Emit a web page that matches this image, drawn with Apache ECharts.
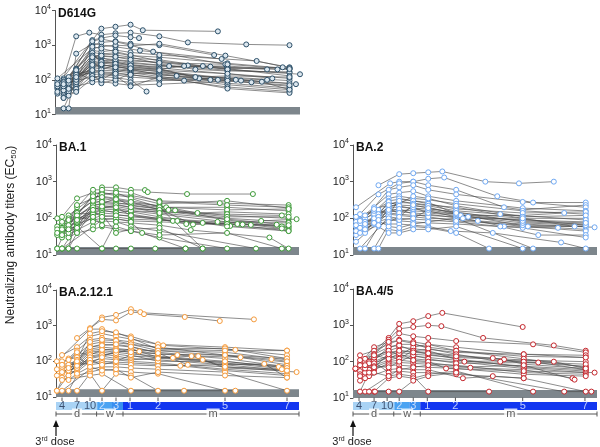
<!DOCTYPE html>
<html><head><meta charset="utf-8">
<script src="https://cdn.jsdelivr.net/npm/echarts@6/dist/echarts.min.js"></script>
<style>html,body{margin:0;padding:0;background:#fff}#c{width:600px;height:447px}</style>
</head><body><div id="c"></div>
<script>
// ---- data: each subject = list of [day after 3rd dose, EC50 titer]; 15 = below LOD ----
const d614g = [
 [[2.8,70],[14,3000],[21,3400],[31,3900],[44,2700],[140,2500]],
 [[4.5,110],[7,1800],[10,2300],[14,2000],[21,2200],[31,2300],[62,1800],[100,1200],[170,1050],[212,1000]],
 [[4.5,60],[11,1400],[14,1600],[21,1900],[31,1700],[40,1600]],
 [[4.5,15],[11,1000],[14,1200],[21,1300],[31,1100],[62,1000],[135,520]],
 [[5.5,15],[7,570],[11,1100],[21,900],[41,700],[145,400]],
 [[2.8,55],[7,210],[11,620],[14,560],[21,600],[31,500],[62,450],[152,300],[212,210]],
 [[2.8,80],[7,150],[11,520],[14,480],[21,450],[31,420],[62,380],[120,250],[152,230],[212,200]],
 [[4.5,40],[7,120],[11,460],[14,420],[21,380],[31,350],[62,320],[100,260],[152,210],[205,230]],
 [[4.5,70],[7,100],[11,420],[14,560],[21,520],[31,450],[62,290],[110,200],[152,180],[212,170]],
 [[5.5,50],[7,90],[11,380],[14,430],[21,340],[31,300],[62,260],[152,190],[212,160]],
 [[2.8,60],[7,80],[11,330],[14,360],[21,310],[31,280],[62,220],[152,150],[212,110]],
 [[4.5,35],[7,70],[11,280],[14,310],[21,270],[31,240],[62,200],[115,110],[152,120],[212,95]],
 [[5.5,45],[7,60],[11,250],[14,270],[21,240],[31,210],[62,170],[152,105],[212,80]],
 [[4.5,30],[7,50],[11,230],[14,240],[21,210],[31,190],[62,150],[152,95],[212,65]],
 [[2.8,90],[7,140],[11,200],[14,220],[21,195],[31,175],[62,140],[85,130],[152,80],[212,58]],
 [[4.5,55],[7,110],[11,180],[14,190],[21,180],[31,160],[62,125],[152,72],[212,52]],
 [[5.5,70],[7,130],[11,160],[14,170],[21,160],[31,140],[62,115],[152,62],[212,46]],
 [[4.5,100],[7,180],[11,140],[14,150],[21,140],[31,120],[62,105],[95,95],[152,56],[212,42]],
 [[2.8,65],[7,95],[11,120],[14,125],[21,115],[31,100],[48,46]],
 [[5.5,80],[7,160],[11,100],[14,105],[21,95],[31,85],[62,95],[130,100]],
 [[4.5,45],[7,65],[11,85],[14,90],[21,78],[31,70],[62,75],[165,95]],
 [[2.8,110],[11,800],[14,900],[21,1000],[31,950],[62,1100],[150,500],[212,230]],
 [[5.5,120],[11,1300],[14,1500],[21,1250],[31,1000],[55,650],[150,280]],
 [[4.5,90],[11,700],[14,650],[21,720],[31,620],[62,520],[180,350],[212,220]],
 [[2.8,40],[7,200],[11,600],[14,300],[21,330],[31,260],[62,240],[130,240],[190,200]],
 [[5.5,60],[7,170],[11,500],[14,350],[21,380],[31,320],[75,250],[152,250],[200,200]],
 [[4.5,50],[7,110],[11,350],[14,200],[21,260],[31,230],[62,200],[95,250],[152,210],[212,130]],
 [[5.5,35],[7,75],[11,150],[14,80],[21,100],[31,150],[62,160],[152,110],[190,100]],
 [[2.8,75],[7,55],[11,130],[14,100],[21,170],[31,200],[62,140],[140,100],[175,85]],
 [[4.5,30],[7,45],[11,110],[14,140],[21,130],[31,65],[62,120],[160,100],[220,75]],
 [[5.5,55],[7,190],[11,900],[14,800],[21,650],[31,520],[62,350],[152,200],[225,145]],
 [[4.5,85],[7,130],[11,450],[14,500],[21,460],[31,380],[62,310],[152,280],[212,205]],
 [[2.8,45],[7,85],[11,240],[14,260],[21,250],[31,200],[62,180],[185,88],[212,52]],
 [[5.5,95],[7,140],[11,190],[14,160],[21,150],[31,140],[62,110],[152,95],[212,70]],
 [[4.5,65],[7,100],[11,300],[14,330],[21,290],[31,260],[62,210],[110,120],[152,130],[212,120]],
 [[4.5,75],[7,120],[11,270],[14,280],[21,230],[31,215],[62,190],[152,150],[195,110]]
];
const ba1 = [
 [[2.4,15],[4,15],[7,15],[14,15],[21,15],[31,15],[57,15],[97,15]],
 [[4,15],[11,250],[14,700],[21,700],[31,600],[46,590],[49,520],[99,460],[177,460]],
 [[5.3,15],[7,120],[11,450],[14,500],[21,450],[31,420],[62,300],[143,260],[212,230]],
 [[2.4,100],[4,110],[7,350],[11,500],[14,480],[21,420],[31,380],[62,250],[152,300],[212,190]],
 [[4,60],[5.3,120],[11,380],[14,400],[21,350],[31,300],[71,200],[152,200],[212,160]],
 [[5.3,60],[7,150],[11,300],[14,350],[21,300],[31,270],[62,220],[113,140],[152,150],[212,130]],
 [[4,33],[7,100],[11,250],[14,300],[21,270],[31,230],[74,170],[152,120],[212,100]],
 [[2.4,35],[7,80],[11,220],[14,250],[21,240],[31,200],[62,160],[152,100],[212,80]],
 [[5.3,55],[7,60],[11,200],[14,220],[21,210],[31,180],[83,165],[152,90],[205,60]],
 [[4,45],[7,50],[11,180],[14,200],[21,190],[31,160],[62,130],[152,80],[212,55]],
 [[5.3,30],[7,40],[11,160],[14,180],[21,170],[31,150],[62,110],[155,62],[212,50]],
 [[4,70],[7,130],[11,140],[14,160],[21,150],[31,130],[80,85],[152,70],[212,45]],
 [[2.4,60],[7,90],[11,120],[14,140],[21,130],[31,110],[62,95],[98,70],[162,70],[212,60]],
 [[5.3,40],[7,70],[11,100],[14,120],[21,110],[31,95],[86,85],[167,68],[200,67]],
 [[4,55],[7,110],[11,90],[14,100],[21,95],[31,85],[62,80],[175,66],[205,53]],
 [[4,30],[7,48],[11,80],[14,85],[21,80],[31,75],[62,65],[104,48],[193,30],[212,15]],
 [[5.3,100],[7,200],[11,600],[14,600],[21,550],[31,500],[62,280],[152,230],[212,200]],
 [[2.4,15],[7,230],[11,350],[14,450],[21,500],[31,350],[62,200],[120,15]],
 [[4,15],[11,60],[14,90],[21,100],[31,80],[43,40],[97,15]],
 [[5.3,15],[7,40],[11,50],[14,60],[21,50],[31,45],[62,30],[152,15]],
 [[4,45],[7,60],[14,15],[21,80],[31,60],[62,45],[180,15]],
 [[5.3,75],[7,100],[11,140],[14,130],[21,40],[31,50],[62,55],[120,15]],
 [[2.4,50],[11,230],[14,250],[21,350],[31,220],[62,180],[107,68],[185,85],[222,95]],
 [[4,80],[7,140],[11,300],[14,280],[21,250],[31,250],[62,200],[152,170],[212,180]],
 [[5.3,90],[7,120],[11,200],[14,170],[21,140],[31,160],[62,150],[152,130],[205,120]],
 [[4,50],[7,80],[11,150],[14,110],[21,120],[31,120],[62,100],[140,80],[212,75]],
 [[5.3,65],[11,400],[14,380],[21,330],[31,280],[62,170],[152,110],[212,110]],
 [[2.4,40],[7,60],[11,130],[14,190],[21,230],[31,200],[62,140],[152,95],[212,65]],
 [[4,35],[7,55],[11,110],[14,65],[21,60],[31,45],[62,35],[152,40],[205,15]],
 [[5.3,50],[7,90],[11,170],[14,210],[21,200],[31,120],[62,90],[120,75],[152,60],[212,45]]
];
const ba2 = [
 [[8,800],[14,1600],[21,1700],[31,1800],[46,1900],[100,1000],[145,900],[180,1000]],
 [[3,200],[11,900],[14,1000],[21,1000],[31,1200],[48,1300],[116,400],[160,270],[211,270]],
 [[4.2,130],[8,450],[14,900],[21,1000],[31,800],[61,600],[125,200],[150,170],[211,230]],
 [[5.2,100],[10.5,600],[14,700],[21,800],[31,600],[61,450],[150,280],[211,200]],
 [[3,80],[7,200],[10.5,450],[14,500],[21,550],[31,400],[61,300],[150,190],[211,160]],
 [[4.2,70],[7,150],[10.5,350],[14,400],[21,350],[31,320],[61,250],[150,160],[211,130]],
 [[5.2,60],[8,120],[10.5,300],[14,330],[21,300],[31,270],[67,120],[150,120],[190,140]],
 [[3,60],[7,110],[10.5,250],[14,270],[21,260],[31,230],[61,200],[150,100],[211,100]],
 [[4.2,50],[8,100],[10.5,220],[14,230],[21,220],[31,200],[77,110],[150,90],[211,80]],
 [[5.2,40],[7,90],[10.5,200],[14,200],[21,190],[31,180],[61,150],[150,80],[211,70]],
 [[3,35],[8,80],[10.5,180],[14,170],[21,160],[31,150],[61,130],[155,60],[211,60]],
 [[4.2,90],[7,130],[10.5,160],[14,150],[21,140],[31,130],[90,85],[150,70],[222,57]],
 [[3,23],[10.5,140],[14,130],[21,120],[31,120],[61,110],[125,60],[184,55],[211,50]],
 [[5.2,120],[8,170],[10.5,130],[14,120],[21,110],[31,100],[61,95],[150,60],[211,45]],
 [[4.2,15],[10.5,110],[14,100],[21,95],[31,90],[61,80],[120,60],[165,35],[211,35]],
 [[5.2,15],[8,60],[10.5,90],[14,85],[21,80],[31,75],[61,70],[150,55],[211,30]],
 [[7,15],[10.5,70],[14,70],[21,65],[31,60],[55,45],[110,40],[187,22],[211,15]],
 [[8,15],[10.5,50],[14,45],[21,60],[31,55],[61,40],[105,15]],
 [[4.2,45],[7,70],[10.5,40],[14,40],[21,50],[31,50],[61,60],[150,15]],
 [[3,65],[7,100],[10.5,60],[14,55],[21,70],[31,80],[61,100],[160,15]],
 [[5.2,80],[10.5,120],[14,350],[21,300],[31,250],[61,180],[150,140],[211,150]],
 [[4.2,55],[8,130],[10.5,200],[14,250],[21,400],[31,350],[61,220],[150,110],[211,120]],
 [[3,110],[7,160],[10.5,280],[14,220],[21,180],[31,160],[70,100],[150,95],[211,65]],
 [[5.2,70],[8,110],[10.5,150],[14,180],[21,130],[31,110],[61,85],[150,65],[211,60]],
 [[4.2,85],[7,180],[10.5,230],[14,300],[21,250],[31,220],[61,160],[120,130],[211,90]],
 [[3,45],[8,90],[10.5,170],[14,140],[21,200],[31,140],[61,120],[150,75],[211,65]],
 [[5.2,50],[7,75],[10.5,100],[14,90],[21,100],[31,170],[61,130],[150,85],[211,75]],
 [[4.2,40],[8,65],[10.5,80],[14,110],[21,230],[31,190],[61,140],[150,100],[200,60]]
];
const ba2121 = [
 [[10,850],[14,1700],[21,2000],[31,2900],[41,2400],[45,2100],[96,1750],[143,1350]],
 [[7,450],[14,1500],[21,1400],[31,2400],[178,1500]],
 [[2.3,100],[10,800],[14,800],[21,600],[31,500],[60,300],[150,250],[210,200]],
 [[4,150],[7,250],[10,500],[14,600],[21,500],[31,420],[67,280],[160,210],[210,150]],
 [[5.3,120],[7,200],[10,400],[14,450],[21,400],[31,350],[60,230],[150,230],[210,120]],
 [[4,90],[7,150],[10,300],[14,350],[21,330],[31,300],[60,200],[150,180],[210,110]],
 [[5.3,70],[7,120],[10,250],[14,300],[21,280],[31,250],[60,180],[114,140],[165,130],[210,95]],
 [[4,60],[7,100],[10,220],[14,250],[21,230],[31,210],[60,160],[150,150],[210,80]],
 [[2.3,15],[7,90],[10,200],[14,220],[21,200],[31,180],[86,150],[150,120],[210,70]],
 [[5.3,50],[7,80],[10,180],[14,200],[21,180],[31,160],[60,140],[150,100],[202,70]],
 [[4,45],[7,70],[10,160],[14,180],[21,160],[31,140],[80,125],[150,90],[210,60]],
 [[5.3,40],[7,60],[10,140],[14,160],[21,140],[31,120],[60,110],[150,80],[210,55]],
 [[4,35],[7,55],[10,120],[14,140],[21,120],[31,110],[105,140],[150,70],[222,50]],
 [[2.3,60],[7,50],[10,100],[14,120],[21,110],[31,100],[60,90],[150,60],[210,45]],
 [[5.3,80],[10,90],[14,100],[21,95],[31,90],[90,75],[150,55],[210,40]],
 [[4,100],[7,130],[10,80],[14,90],[21,85],[31,80],[60,75],[188,85],[210,35]],
 [[4,15],[10,60],[14,70],[21,70],[31,65],[60,60],[150,50],[210,15]],
 [[5.3,15],[7,40],[10,50],[14,60],[21,55],[31,50],[60,45],[150,15]],
 [[7,15],[10,45],[14,15],[21,45],[31,40],[60,15]],
 [[2.3,15],[4,30],[10,40],[14,45],[31,15],[95,15],[160,15]],
 [[5.3,55],[7,110],[10,600],[14,700],[21,650],[31,450],[60,220],[150,200],[210,200]],
 [[4,70],[7,90],[10,350],[14,400],[21,380],[31,300],[60,250],[150,150],[210,120]],
 [[5.3,110],[7,180],[10,150],[14,210],[21,220],[31,200],[60,200],[195,115],[210,100]],
 [[4,50],[7,65],[10,130],[14,150],[21,170],[31,230],[40,190],[60,130],[150,85],[210,75]],
 [[2.3,40],[7,85],[10,110],[14,80],[21,100],[31,150],[60,100],[150,100],[210,65]],
 [[5.3,65],[7,75],[10,90],[14,130],[21,200],[31,180],[60,120],[120,110],[150,65],[210,55]],
 [[4,80],[7,100],[10,250],[14,280],[21,300],[31,260],[60,170],[100,80],[150,70],[205,60]],
 [[5.3,30],[7,45],[10,70],[14,55],[21,60],[31,35],[60,50],[150,40],[210,35]]
];
const ba45 = [
 [[4.2,90],[10.5,450],[14,1100],[21,1300],[31,1800],[46,2200],[150,900]],
 [[5.2,100],[10.5,400],[14,800],[21,900],[31,1000],[45,950],[97,450],[180,280],[211,200]],
 [[2.8,63],[7,250],[10.5,350],[14,600],[21,500],[31,450],[61,370],[160,300],[211,180]],
 [[4.2,150],[7,200],[10.5,300],[14,400],[21,350],[31,300],[61,250],[151,160],[211,150]],
 [[5.2,120],[7,160],[10.5,250],[14,300],[21,300],[31,250],[61,200],[151,140],[211,130]],
 [[6,100],[7,140],[10.5,200],[14,250],[21,230],[31,200],[72,100],[151,110],[211,100]],
 [[4.2,80],[7,120],[10.5,180],[14,200],[21,190],[31,180],[61,150],[110,125],[151,95],[211,75]],
 [[5.2,70],[7,100],[10.5,150],[14,180],[21,160],[31,150],[61,130],[125,115],[151,85],[211,65]],
 [[6,60],[7,90],[10.5,130],[14,150],[21,140],[31,130],[61,110],[151,75],[211,60]],
 [[4.2,55],[7,80],[10.5,110],[14,130],[21,120],[31,110],[61,100],[151,65],[211,50]],
 [[5.2,50],[7,70],[10.5,100],[14,110],[21,100],[31,95],[80,68],[151,60],[198,35]],
 [[4.2,45],[7,60],[10.5,90],[14,95],[21,90],[31,85],[61,80],[151,50],[211,45]],
 [[6,40],[7,65],[10.5,80],[14,80],[21,75],[31,70],[61,65],[151,45],[211,40]],
 [[5.2,35],[10.5,60],[14,65],[21,60],[31,60],[70,35],[110,40],[151,35]],
 [[4.2,15],[7,100],[10.5,50],[14,55],[21,50],[31,50],[61,45],[151,35],[211,15]],
 [[5.2,15],[10.5,40],[14,45],[21,40],[31,15],[105,15]],
 [[6,15],[7,15],[10.5,35],[14,40],[21,35],[31,45],[61,55],[160,15]],
 [[7.2,15],[10.5,15],[14,15],[21,30],[31,40],[61,50],[190,15],[218,15]],
 [[2.8,65],[7,110],[10.5,250],[14,280],[21,200],[31,220],[61,180],[151,160],[211,130]],
 [[4.2,110],[7,130],[10.5,200],[14,150],[21,250],[31,300],[61,200],[151,120],[211,70]],
 [[6,90],[7,160],[10.5,350],[14,380],[21,320],[31,230],[61,160],[120,100],[151,100],[211,85]],
 [[5.2,65],[7,90],[10.5,140],[14,120],[21,200],[31,160],[61,120],[151,70],[211,55]],
 [[4.2,40],[7,75],[10.5,70],[14,100],[21,150],[31,120],[61,90],[165,95],[211,60]],
 [[5.2,80],[7,150],[10.5,120],[14,170],[21,110],[31,100],[50,65],[151,55],[222,50]],
 [[6,50],[7,70],[10.5,160],[14,200],[21,180],[31,170],[61,140],[180,100],[211,65]],
 [[4.2,30],[7,50],[10.5,40],[14,60],[21,70],[31,80],[61,70],[151,80],[200,32]]
];
// timeline (x-axis key)
const tickDays   = [4, 7, 10, 14, 21, 30, 60, 150, 210];
const tickLabels = ['4','7','10','2','3','1','2','5','7'];
const segDays    = [[2,12.4],[12.4,19],[19,25.5],[25.5,225]];
const unitDays   = [2, 12.2, 25.5, 225];
const unitLabels = [['d',7],['w',18],['m',134]];

// piecewise time scale (days -> axis units)
const dayAnchors = [2, 4, 7, 10, 14, 21, 30, 60, 150, 210, 225];
const posAnchors = [0, 6, 21, 34, 46, 60, 74, 102, 169, 231, 243];
function pos(d){
  for (let i=0;i<dayAnchors.length-1;i++){
    if (d<=dayAnchors[i+1] || i===dayAnchors.length-2){
      const t=(d-dayAnchors[i])/(dayAnchors[i+1]-dayAnchors[i]);
      return posAnchors[i]+t*(posAnchors[i+1]-posAnchors[i]);
    }
  }
}
const XMAX = 243;
const FONT = 'Liberation Sans, Arial, Helvetica, sans-serif';

const panels = [
 {name:'D614G', data:d614g, stroke:'#2d5069', fill:'#dce7ef', grid:{left:55,top:10.5,width:245,height:104}},
 {name:'BA.1', data:ba1, stroke:'#3c9a37', fill:'#ffffff', grid:{left:56,top:145,width:243,height:110}},
 {name:'BA.2', data:ba2, stroke:'#6fa8f2', fill:'#ffffff', grid:{left:353,top:145,width:244,height:110}},
 {name:'BA.2.12.1', data:ba2121, stroke:'#f59a3a', fill:'#ffffff', grid:{left:56,top:290,width:243,height:107}},
 {name:'BA.4/5', data:ba45, stroke:'#c4262c', fill:'#ffffff', grid:{left:353,top:289,width:244,height:109}}
];
const timelines = [{left:56,width:243},{left:353,width:244}];

const grid=[], xAxis=[], yAxis=[], series=[], title=[];
panels.forEach((p,i)=>{
  grid.push(Object.assign({containLabel:false}, p.grid));
  xAxis.push({type:'value', gridIndex:i, min:0, max:XMAX, show:false});
  yAxis.push({type:'log', logBase:10, gridIndex:i, min:10, max:10000,
    axisLine:{show:true, lineStyle:{color:'#555', width:1}},
    axisTick:{show:true, length:3, lineStyle:{color:'#555'}},
    minorTick:{show:false}, splitLine:{show:false},
    axisLabel:{margin:4, formatter:v=>'{b|10}{s|'+Math.round(Math.log10(v))+'}',
      rich:{b:{fontSize:11, fontFamily:FONT, color:'#222', lineHeight:14},
            s:{fontSize:7, fontFamily:FONT, color:'#222', lineHeight:8, verticalAlign:'top'}}}
  });
  series.push({type:'line', xAxisIndex:i, yAxisIndex:i, data:[], silent:true, z:1,
    markArea:{silent:true, itemStyle:{color:'#7d868c'}, data:[[{yAxis:10},{yAxis:16.5}]]}});
  series.push({type:'lines', coordinateSystem:'cartesian2d', xAxisIndex:i, yAxisIndex:i, polyline:true, silent:true, z:2,
    lineStyle:{color:'#4a4a4a', width:0.7, opacity:0.9},
    data:p.data.map(s=>({coords:s.map(q=>[pos(q[0]), q[1]])}))});
  const pts=[]; p.data.forEach(s=>s.forEach(q=>pts.push([pos(q[0]), q[1]])));
  series.push({type:'scatter', xAxisIndex:i, yAxisIndex:i, silent:true, z:3, symbol:'circle', symbolSize:5,
    itemStyle:{color:p.fill, borderColor:p.stroke, borderWidth:1, opacity:1}, data:pts});
  title.push({text:p.name, left:p.grid.left+3, top:p.grid.top-3, padding:0,
    textStyle:{fontSize:12, fontWeight:'bold', fontFamily:FONT, color:'#111'}});
});

const segColors = ['#a9d3f5','#4ba3f2','#3a8ff0','#1236f0'];
timelines.forEach((t,k)=>{
  const gi = grid.length;
  grid.push({left:t.left, top:397, width:t.width, height:21});
  xAxis.push({type:'value', gridIndex:gi, min:0, max:XMAX, show:false});
  yAxis.push({type:'value', gridIndex:gi, min:0, max:21, inverse:true, show:false});
  series.push({type:'line', xAxisIndex:gi, yAxisIndex:gi, data:[], silent:true, z:1,
    markArea:{silent:true, data:segDays.map((s,j)=>[{xAxis:pos(s[0]), yAxis:5, itemStyle:{color:segColors[j]}},{xAxis:pos(s[1]), yAxis:13}])}});
  const segs = [];
  tickDays.forEach(d=>segs.push({coords:[[pos(d),0.5],[pos(d),4]]}));
  segs.push({coords:[[pos(unitDays[0]),17],[pos(unitDays[unitDays.length-1]),17]]});
  unitDays.forEach(d=>segs.push({coords:[[pos(d),14.5],[pos(d),19.5]]}));
  series.push({type:'lines', coordinateSystem:'cartesian2d', xAxisIndex:gi, yAxisIndex:gi, polyline:true, silent:true, z:2,
    lineStyle:{color:'#555', width:1, opacity:1}, data:segs});
  series.push({type:'scatter', xAxisIndex:gi, yAxisIndex:gi, silent:true, z:3, symbolSize:0,
    label:{show:true, position:'inside', fontSize:11, fontFamily:FONT},
    data:tickDays.map((d,j)=>({value:[pos(d),9], label:{formatter:tickLabels[j], color: j<3?'#1d2d4d':'#e6eeff'}}))});
  series.push({type:'scatter', xAxisIndex:gi, yAxisIndex:gi, silent:true, z:4, symbolSize:0,
    label:{show:true, position:'inside', fontSize:11, fontFamily:FONT, color:'#333', backgroundColor:'#fff', padding:[0,2]},
    data:unitLabels.map(u=>({value:[pos(u[1]),17], label:{formatter:u[0]}}))});
});

const graphic = [
  {type:'text', x:11, y:235, rotation:Math.PI/2, style:{
    text:'{a|Neutralizing antibody titers (EC}{b|50}{a|)}', align:'center', verticalAlign:'middle',
    rich:{a:{fontSize:12, fontFamily:FONT, fill:'#222', lineHeight:14}, b:{fontSize:8, fontFamily:FONT, fill:'#222', lineHeight:8, verticalAlign:'bottom'}}}}
];
timelines.forEach(t=>{
  const x = t.left;
  graphic.push({type:'line', shape:{x1:x, y1:436, x2:x, y2:425}, style:{stroke:'#111', lineWidth:1.2}});
  graphic.push({type:'polygon', shape:{points:[[x,420],[x-3,427],[x+3,427]]}, style:{fill:'#111'}});
  graphic.push({type:'text', x:x-1, y:442, style:{text:'{a|3}{s|rd}{a| dose}', align:'center', verticalAlign:'middle',
    rich:{a:{fontSize:11, fontFamily:FONT, fill:'#222', lineHeight:13}, s:{fontSize:7, fontFamily:FONT, fill:'#222', lineHeight:8, verticalAlign:'top'}}}});
});

const chart = echarts.init(document.getElementById('c'), null, {renderer:'canvas'});
chart.setOption({animation:false, backgroundColor:'#fff', title, grid, xAxis, yAxis, series, graphic});
</script></body></html>
